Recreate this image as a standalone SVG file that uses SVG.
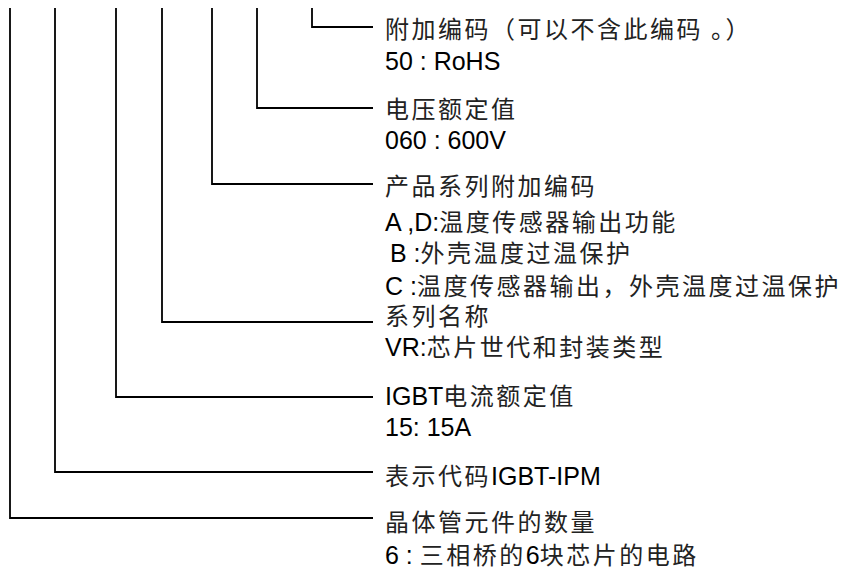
<svg xmlns="http://www.w3.org/2000/svg" width="843" height="571" viewBox="0 0 843 571">
<style>
.c{fill:none;stroke:#000;stroke-width:1.8}
text{font-family:"Liberation Sans","Noto Sans CJK SC",Arial,sans-serif;font-size:25px;fill:#000}
.z{font-family:"Noto Sans CJK SC",sans-serif;font-size:24px;letter-spacing:2.5px;fill:#222}
</style>
<rect width="843" height="571" fill="#fff"/>
<g id="connectors">
<polyline class="c" points="312,8 312,27 373,27"/>
<polyline class="c" points="257,8 257,108 373,108"/>
<polyline class="c" points="212,8 212,184 373,184"/>
<polyline class="c" points="162,8 162,322 373,322"/>
<polyline class="c" points="116,8 116,397 373,397"/>
<polyline class="c" points="55,8 55,472 373,472"/>
<polyline class="c" points="10,8 10,518 373,518"/>
</g>
<g id="n1"><text x="385" y="38"><tspan class="z">附加编码（可以不含此编码 。）</tspan></text><text x="385" y="70">50 : RoHS</text></g>
<g id="n2"><text x="385" y="118"><tspan class="z">电压额定值</tspan></text><text x="385" y="149">060 : 600V</text></g>
<g id="n3"><text x="385" y="195"><tspan class="z">产品系列附加编码</tspan></text>
<text x="385" y="231">A ,D:<tspan class="z">温度传感器输出功能</tspan></text>
<text x="390" y="262">B :<tspan class="z">外壳温度过温保护</tspan></text>
<text x="385" y="295">C :<tspan class="z">温度传感器输出，外壳温度过温保护</tspan></text></g>
<g id="n4"><text x="385" y="325"><tspan class="z">系列名称</tspan></text><text x="385" y="356">VR:<tspan class="z">芯片世代和封装类型</tspan></text></g>
<g id="n5"><text x="385" y="405">IGBT<tspan class="z">电流额定值</tspan></text><text x="385" y="436">15: 15A</text></g>
<g id="n6"><text x="385" y="485"><tspan class="z">表示代码</tspan>IGBT-IPM</text></g>
<g id="n7"><text x="385" y="531"><tspan class="z">晶体管元件的数量</tspan></text><text x="385" y="564">6 : <tspan class="z">三相桥的</tspan>6<tspan class="z">块芯片的电路</tspan></text></g>
</svg>
